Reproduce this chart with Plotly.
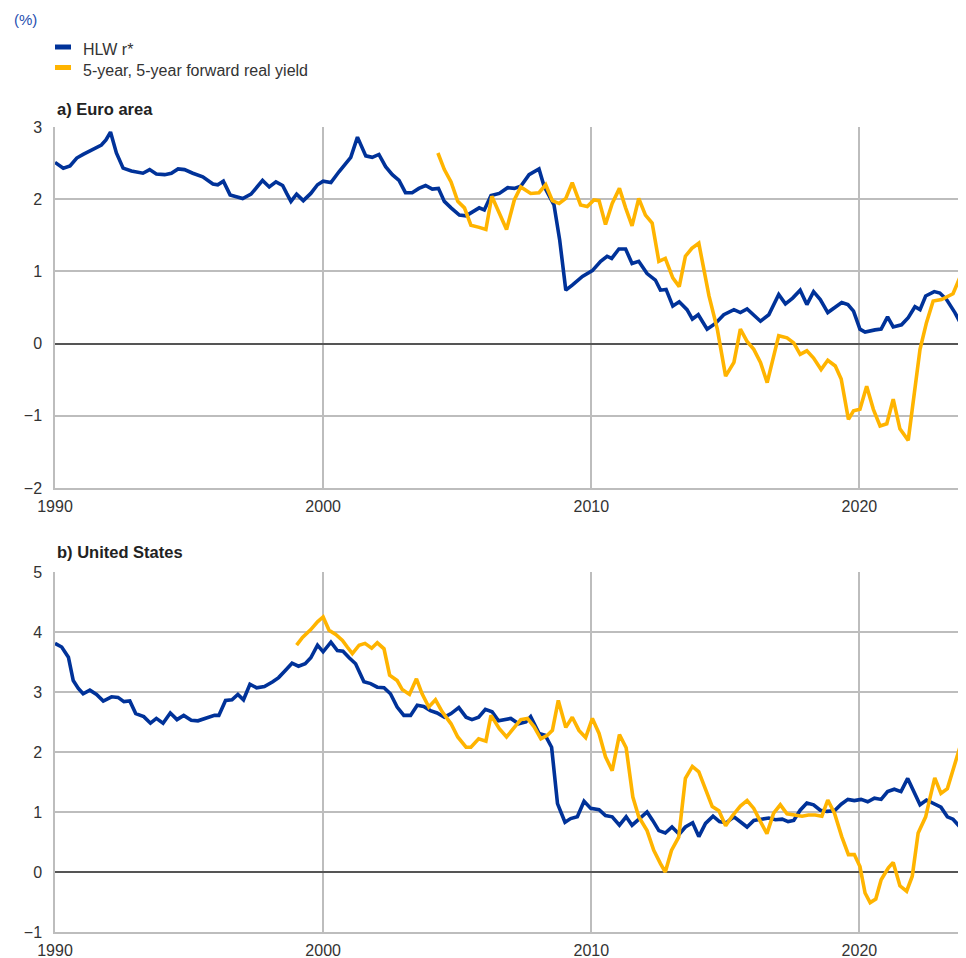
import plotly.graph_objects as go

# ---------------- data (decimal years, %) ----------------
ea_hlw_x = [1990.0, 1990.31, 1990.56, 1990.81, 1991.05, 1991.43, 1991.73, 1991.9, 1992.07, 1992.29,
            1992.54, 1992.85, 1993.28, 1993.53, 1993.78, 1994.09, 1994.34, 1994.59, 1994.83, 1995.14,
            1995.51, 1995.89, 1996.07, 1996.28, 1996.53, 1997.0, 1997.31, 1997.74, 1997.99, 1998.24,
            1998.49, 1998.64, 1998.8, 1999.01, 1999.26, 1999.54, 1999.79, 2000.0, 2000.29, 2000.59,
            2001.03, 2001.28, 2001.59, 2001.83, 2002.08, 2002.33, 2002.58, 2002.83, 2003.07, 2003.32,
            2003.57, 2003.82, 2004.07, 2004.3, 2004.52, 2004.77, 2005.08, 2005.33, 2005.58, 2005.82,
            2006.01, 2006.26, 2006.57, 2006.88, 2007.13, 2007.37, 2007.68, 2008.05, 2008.24, 2008.61,
            2008.82, 2009.05, 2009.29, 2009.67, 2010.04, 2010.35, 2010.59, 2010.76, 2011.03, 2011.28,
            2011.52, 2011.77, 2012.08, 2012.39, 2012.58, 2012.79, 2013.04, 2013.28, 2013.57, 2013.77,
            2013.99, 2014.32, 2014.63, 2014.94, 2015.32, 2015.56, 2015.81, 2016.31, 2016.62, 2016.99,
            2017.24, 2017.51, 2017.79, 2018.04, 2018.29, 2018.54, 2018.82, 2019.10, 2019.34, 2019.57,
            2019.78, 2020.02, 2020.21, 2020.58, 2020.81, 2021.05, 2021.26, 2021.57, 2021.82, 2022.07,
            2022.26, 2022.47, 2022.79, 2023.00, 2023.25, 2023.56, 2023.83]
ea_hlw_y = [2.51, 2.43, 2.46, 2.57, 2.62, 2.70, 2.75, 2.82, 2.93, 2.64,
            2.43, 2.39, 2.36, 2.41, 2.35, 2.34, 2.36, 2.42, 2.41, 2.36,
            2.31, 2.21, 2.20, 2.25, 2.06, 2.01, 2.07, 2.26, 2.17, 2.24,
            2.19, 2.08, 1.97, 2.07, 1.98, 2.08, 2.20, 2.25, 2.23, 2.38,
            2.58, 2.86, 2.60, 2.58, 2.62, 2.45, 2.34, 2.26, 2.09, 2.09,
            2.15, 2.19, 2.14, 2.15, 1.97, 1.88, 1.78, 1.77, 1.83, 1.88,
            1.85, 2.05, 2.08, 2.16, 2.15, 2.18, 2.34, 2.42, 2.18, 1.92,
            1.44, 0.74, 0.81, 0.93, 1.01, 1.14, 1.21, 1.18, 1.31, 1.31,
            1.11, 1.14, 0.97, 0.88, 0.74, 0.75, 0.52, 0.58, 0.47, 0.34,
            0.40, 0.20, 0.28, 0.40, 0.47, 0.43, 0.48, 0.31, 0.40, 0.68,
            0.55, 0.63, 0.74, 0.54, 0.72, 0.61, 0.43, 0.51, 0.57, 0.54,
            0.45, 0.20, 0.16, 0.19, 0.20, 0.37, 0.23, 0.26, 0.36, 0.51,
            0.47, 0.66, 0.72, 0.70, 0.61, 0.43, 0.24]

ea_yld_x = [2004.28, 2004.52, 2004.77, 2005.02, 2005.27, 2005.51, 2005.82, 2006.07, 2006.29, 2006.57,
            2006.84, 2007.13, 2007.37, 2007.74, 2008.05, 2008.30, 2008.55, 2008.80, 2009.05, 2009.29,
            2009.60, 2009.85, 2010.10, 2010.29, 2010.53, 2010.78, 2011.05, 2011.28, 2011.52, 2011.77,
            2012.02, 2012.27, 2012.52, 2012.76, 2013.04, 2013.28, 2013.51, 2013.75, 2014.01, 2014.39,
            2014.70, 2015.01, 2015.32, 2015.56, 2015.81, 2016.06, 2016.31, 2016.56, 2016.80, 2016.99,
            2017.30, 2017.55, 2017.79, 2018.04, 2018.29, 2018.57, 2018.82, 2019.10, 2019.32, 2019.47,
            2019.59, 2019.78, 2020.02, 2020.27, 2020.52, 2020.77, 2021.02, 2021.26, 2021.51, 2021.82,
            2022.07, 2022.26, 2022.50, 2022.75, 2023.06, 2023.31, 2023.49, 2023.66, 2023.83]
ea_yld_y = [2.64, 2.41, 2.24, 1.97, 1.88, 1.64, 1.61, 1.58, 2.04, 1.81,
            1.58, 1.99, 2.17, 2.08, 2.09, 2.20, 1.98, 1.94, 2.01, 2.23,
            1.92, 1.90, 1.99, 1.98, 1.65, 1.94, 2.15, 1.88, 1.63, 2.01,
            1.78, 1.67, 1.14, 1.18, 0.91, 0.79, 1.21, 1.32, 1.39, 0.66,
            0.20, -0.45, -0.26, 0.20, 0.03, -0.08, -0.26, -0.54, -0.17, 0.11,
            0.08, 0.01, -0.15, -0.10, -0.20, -0.36, -0.23, -0.31, -0.49, -0.77,
            -1.05, -0.93, -0.91, -0.59, -0.91, -1.14, -1.11, -0.77, -1.18, -1.34,
            -0.63, -0.08, 0.29, 0.59, 0.61, 0.66, 0.69, 0.84, 0.99]

us_hlw_x = [1990.0, 1990.25, 1990.50, 1990.68, 1990.87, 1991.05, 1991.30, 1991.55, 1991.80, 1992.11,
            1992.35, 1992.57, 1992.79, 1993.01, 1993.31, 1993.56, 1993.78, 1994.03, 1994.30, 1994.55,
            1994.80, 1995.08, 1995.33, 1995.64, 1995.95, 1996.11, 1996.36, 1996.60, 1996.82, 1997.03,
            1997.27, 1997.52, 1997.81, 1998.12, 1998.34, 1998.59, 1998.84, 1999.08, 1999.33, 1999.54,
            1999.79, 2000.0, 2000.29, 2000.53, 2000.74, 2000.97, 2001.21, 2001.52, 2001.77, 2002.02,
            2002.27, 2002.51, 2002.76, 2003.01, 2003.26, 2003.51, 2003.75, 2004.00, 2004.25, 2004.52,
            2004.77, 2005.06, 2005.33, 2005.55, 2005.80, 2006.05, 2006.30, 2006.54, 2007.00, 2007.29,
            2007.56, 2007.74, 2008.05, 2008.28, 2008.52, 2008.74, 2009.02, 2009.23, 2009.48, 2009.73,
            2009.98, 2010.29, 2010.53, 2010.78, 2011.05, 2011.30, 2011.52, 2011.80, 2012.08, 2012.29,
            2012.52, 2012.76, 2013.01, 2013.28, 2013.51, 2013.78, 2014.01, 2014.26, 2014.54, 2014.78,
            2015.03, 2015.32, 2015.56, 2015.81, 2016.06, 2016.37, 2016.62, 2016.87, 2017.12, 2017.34,
            2017.55, 2017.79, 2018.04, 2018.29, 2018.54, 2018.79, 2019.07, 2019.32, 2019.57, 2019.81,
            2020.06, 2020.31, 2020.56, 2020.81, 2021.05, 2021.30, 2021.55, 2021.80, 2022.04, 2022.26,
            2022.50, 2022.79, 2023.04, 2023.28, 2023.49, 2023.83]
us_hlw_y = [3.81, 3.75, 3.58, 3.19, 3.06, 2.97, 3.03, 2.96, 2.85, 2.92,
            2.91, 2.84, 2.85, 2.64, 2.59, 2.48, 2.56, 2.48, 2.65, 2.54,
            2.61, 2.53, 2.52, 2.57, 2.61, 2.61, 2.86, 2.87, 2.96, 2.87,
            3.13, 3.07, 3.09, 3.17, 3.24, 3.36, 3.48, 3.43, 3.47, 3.57,
            3.78, 3.67, 3.83, 3.69, 3.68, 3.57, 3.47, 3.17, 3.14, 3.08,
            3.07, 2.97, 2.75, 2.61, 2.61, 2.78, 2.76, 2.69, 2.65, 2.58,
            2.64, 2.74, 2.58, 2.54, 2.58, 2.71, 2.67, 2.52, 2.56, 2.47,
            2.50, 2.59, 2.31, 2.28, 2.08, 1.14, 0.83, 0.89, 0.92, 1.18,
            1.06, 1.04, 0.94, 0.92, 0.78, 0.92, 0.78, 0.89, 1.00, 0.86,
            0.69, 0.65, 0.75, 0.63, 0.75, 0.82, 0.59, 0.81, 0.93, 0.84,
            0.82, 0.92, 0.84, 0.75, 0.86, 0.88, 0.90, 0.87, 0.88, 0.84,
            0.86, 1.03, 1.15, 1.12, 1.03, 1.01, 1.02, 1.13, 1.21, 1.19,
            1.21, 1.17, 1.23, 1.21, 1.34, 1.38, 1.34, 1.56, 1.32, 1.12,
            1.20, 1.13, 1.08, 0.92, 0.88, 0.71]

us_yld_x = [1999.01, 1999.23, 1999.54, 1999.79, 2000.0, 2000.22, 2000.47, 2000.72, 2000.90, 2001.09,
            2001.34, 2001.56, 2001.81, 2002.02, 2002.27, 2002.48, 2002.76, 2002.95, 2003.22, 2003.48,
            2003.69, 2003.94, 2004.19, 2004.44, 2004.62, 2004.77, 2005.02, 2005.33, 2005.51, 2005.80,
            2006.07, 2006.26, 2006.57, 2006.84, 2007.13, 2007.37, 2007.62, 2007.87, 2008.12, 2008.36,
            2008.55, 2008.77, 2009.05, 2009.29, 2009.54, 2009.79, 2010.04, 2010.29, 2010.53, 2010.78,
            2011.05, 2011.30, 2011.55, 2011.77, 2012.08, 2012.33, 2012.58, 2012.76, 2012.99, 2013.26,
            2013.51, 2013.77, 2014.01, 2014.26, 2014.51, 2014.76, 2015.01, 2015.25, 2015.56, 2015.81,
            2016.06, 2016.31, 2016.55, 2016.80, 2017.05, 2017.30, 2017.55, 2017.86, 2018.10, 2018.35,
            2018.60, 2018.82, 2019.07, 2019.34, 2019.59, 2019.81, 2020.02, 2020.21, 2020.40, 2020.61,
            2020.81, 2021.08, 2021.26, 2021.51, 2021.76, 2021.97, 2022.19, 2022.47, 2022.63, 2022.81,
            2023.04, 2023.28, 2023.49, 2023.70, 2023.83]
us_yld_y = [3.78, 3.91, 4.04, 4.17, 4.25, 4.03, 3.96, 3.86, 3.75, 3.64,
            3.78, 3.81, 3.73, 3.82, 3.72, 3.28, 3.19, 3.04, 2.96, 3.22,
            2.97, 2.75, 2.87, 2.67, 2.56, 2.47, 2.25, 2.08, 2.08, 2.22,
            2.18, 2.61, 2.39, 2.25, 2.41, 2.54, 2.56, 2.42, 2.22, 2.28,
            2.36, 2.86, 2.41, 2.58, 2.36, 2.24, 2.56, 2.31, 1.92, 1.69,
            2.29, 2.07, 1.25, 0.92, 0.69, 0.36, 0.14, 0.00, 0.36, 0.58,
            1.56, 1.76, 1.67, 1.36, 1.09, 1.02, 0.77, 0.93, 1.10, 1.19,
            1.06, 0.84, 0.64, 0.98, 1.12, 0.97, 0.95, 0.93, 0.95, 0.95,
            0.93, 1.20, 0.98, 0.59, 0.29, 0.29, 0.09, -0.35, -0.51, -0.45,
            -0.13, 0.07, 0.16, -0.23, -0.32, -0.07, 0.65, 0.92, 1.23, 1.57,
            1.31, 1.39, 1.70, 2.00, 2.20]

series_names = ["HLW r*", "5-year, 5-year forward real yield"]
panel_titles = ["a) Euro area", "b) United States"]
x_ticks = [1990, 2000, 2010, 2020]
x_tick_text = ["1990", "2000", "2010", "2020"]
ea_y_ticks = [-2, -1, 0, 1, 2, 3]
us_y_ticks = [-1, 0, 1, 2, 3, 4, 5]

# ---------------- styling ----------------
BLUE = "#003299"
YELLOW = "#FFB400"
GRID = "#BDBDBD"
FONT = "Liberation Sans, Arial, sans-serif"
OFF = 8                          # page body margin (px) in the browser
W, H = 966 - OFF, 958 - OFF      # figure size
# target page-pixel geometry of the plot areas
PL, PR = 55, 964
A_TOP, A_BOT = 127, 488
B_TOP, B_BOT = 572, 932
ML = PL - OFF
MR = W - (PR - OFF)
MT = A_TOP - OFF
MB = H - (B_BOT - OFF)
PH = H - MT - MB
PW = W - ML - MR


def py_to_paper(py):
    """page pixel y -> paper coordinate"""
    return (H - MB - (py - OFF)) / PH


def px_to_paper(px):
    """page pixel x -> paper coordinate"""
    return (px - OFF - ML) / PW


fig = go.Figure()

for xs, ys, color, xa, ya in [
    (ea_hlw_x, ea_hlw_y, BLUE, "x", "y"),
    (ea_yld_x, ea_yld_y, YELLOW, "x", "y"),
    (us_hlw_x, us_hlw_y, BLUE, "x2", "y2"),
    (us_yld_x, us_yld_y, YELLOW, "x2", "y2"),
]:
    fig.add_trace(go.Scatter(x=xs, y=ys, mode="lines", xaxis=xa, yaxis=ya,
                             line=dict(color=color, width=3.6), showlegend=False,
                             hoverinfo="skip"))

xcommon = dict(range=[1990, 2023.9], tickvals=x_ticks, ticktext=x_tick_text,
               showgrid=True, gridcolor=GRID, gridwidth=1.5, zeroline=False,
               showline=True, linecolor=GRID, linewidth=1.5,
               tickfont=dict(family=FONT, size=16, color="#333333"),
               ticks="", ticklabelstandoff=3, fixedrange=True)
ycommon = dict(showgrid=True, gridcolor=GRID, gridwidth=1.5, zeroline=True,
               zerolinecolor="#555555", zerolinewidth=2, showline=True,
               linecolor=GRID, linewidth=1.5,
               tickfont=dict(family=FONT, size=16, color="#333333"),
               ticks="", ticklabelstandoff=8, fixedrange=True)

fig.update_layout(
    width=W, height=H,
    margin=dict(l=ML, r=MR, t=MT, b=MB, autoexpand=False),
    paper_bgcolor="white", plot_bgcolor="white",
    font=dict(family=FONT, size=16, color="#333333"),
    showlegend=False,
    xaxis=dict(**xcommon, domain=[0, 1], anchor="y"),
    yaxis=dict(**ycommon, domain=[py_to_paper(A_BOT), 1], range=[-2, 3],
               tickvals=ea_y_ticks, anchor="x"),
    xaxis2=dict(**xcommon, domain=[0, 1], anchor="y2"),
    yaxis2=dict(**ycommon, domain=[0, py_to_paper(B_TOP)], range=[-1, 5],
                tickvals=us_y_ticks, anchor="x2"),
)

# "(%)" unit label
fig.add_annotation(text="(%)", xref="paper", yref="paper", x=px_to_paper(12),
                   y=py_to_paper(19), xanchor="left", yanchor="middle", showarrow=False,
                   font=dict(family=FONT, size=15, color="#1F4FAF"))

# custom legend (short thick swatches like the original)
for i, (name, color) in enumerate(zip(series_names, [BLUE, YELLOW])):
    sy = 47 + 20.5 * i
    ty = 49 + 22 * i
    fig.add_shape(type="line", xref="paper", yref="paper",
                  x0=px_to_paper(55), x1=px_to_paper(71), y0=py_to_paper(sy), y1=py_to_paper(sy),
                  line=dict(color=color, width=5))
    fig.add_annotation(text=name, xref="paper", yref="paper", x=px_to_paper(81),
                       y=py_to_paper(ty), xanchor="left", yanchor="middle", showarrow=False,
                       font=dict(family=FONT, size=16, color="#333333"))

# panel titles
for title, py in zip(panel_titles, [109, 552]):
    fig.add_annotation(text="<b>" + title + "</b>", xref="paper", yref="paper",
                       x=px_to_paper(55), y=py_to_paper(py), xanchor="left",
                       yanchor="middle", showarrow=False,
                       font=dict(family=FONT, size=16.5, color="#222222"))

fig.write_html("out.html")
